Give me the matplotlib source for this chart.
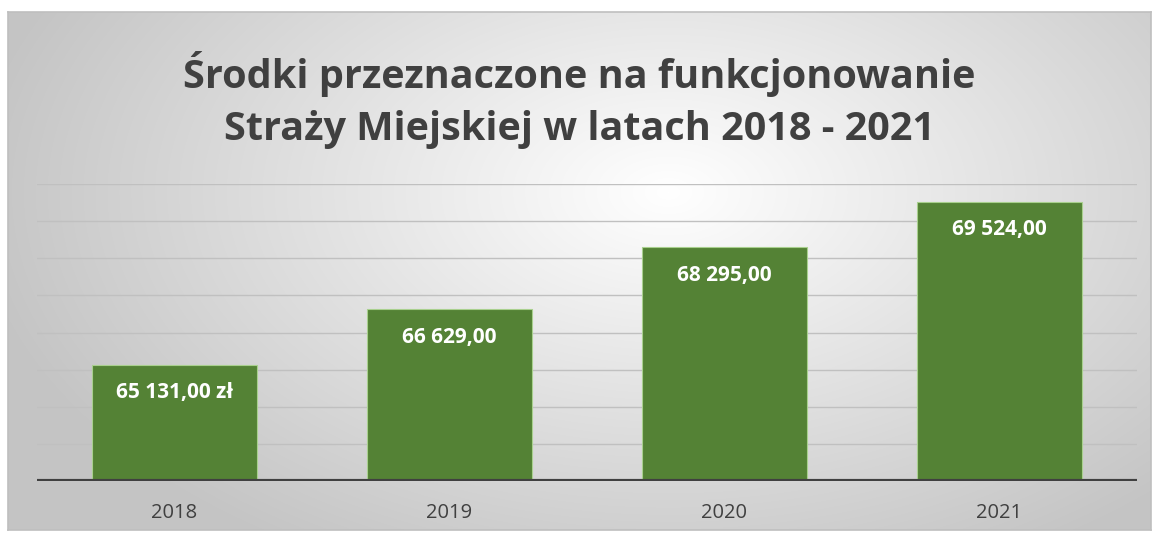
import numpy as np
import matplotlib
matplotlib.use("Agg")
import matplotlib.pyplot as plt

categories = ["2018", "2019", "2020", "2021"]
values = [65131.00, 66629.00, 68295.00, 69524.00]
value_labels = ["65 131,00 zł", "66 629,00", "68 295,00", "69 524,00"]
title = "Środki przeznaczone na funkcjonowanie\nStraży Miejskiej w latach 2018 - 2021"

W, H = 1159, 539
fig = plt.figure(figsize=(W / 100, H / 100), dpi=100)
fig.patch.set_facecolor("white")

# background chart area with radial gradient
x0, y0, x1, y1 = 8, 12, 1151, 530
bg = fig.add_axes([x0 / W, 1 - y1 / H, (x1 - x0) / W, (y1 - y0) / H])
yy, xx = np.mgrid[0:(y1 - y0), 0:(x1 - x0)]
cx, cy = 660, 180
d = np.sqrt(((xx - cx) / 700.0) ** 2 + ((yy - cy) / 420.0) ** 2)
d = np.clip(d, 0, 1)
g = 1.0 - 0.23 * d
img = np.dstack([g, g, g])
bg.imshow(img, aspect="auto", extent=[0, 1, 0, 1], origin="upper")
bg.set_xlim(0, 1); bg.set_ylim(0, 1)
bg.set_xticks([]); bg.set_yticks([])
for s in bg.spines.values():
    s.set_color("#bfbfbf"); s.set_linewidth(1.2)

fam = ["Open Sans", "DejaVu Sans"]
fig.text(0.5, 1 - 100 / H, title, ha="center", va="center", fontsize=28.5,
         fontweight="bold", color="#404040", family=fam, linespacing=1.45)

ax = fig.add_axes([37 / W, 1 - 481 / H, (1137 - 37) / W, (481 - 184) / H])
ax.patch.set_alpha(0)
x = np.arange(len(categories))
bars = ax.bar(x, values, width=0.6, color="#548235", edgecolor="#a9d08e",
              linewidth=0.8, zorder=3)
ax.set_ylim(62000, 70000)
ax.set_xlim(-0.5, len(categories) - 0.5)
ax.set_yticks(np.arange(62000, 70001, 1000))
ax.yaxis.grid(True, color="#c0c0c0", linewidth=1.0, zorder=0)
ax.set_axisbelow(True)
ax.tick_params(axis="y", left=False, labelleft=False)
ax.tick_params(axis="x", bottom=False, labelsize=14.5, labelcolor="#404040", pad=12)
ax.set_xticks(x)
ax.set_xticklabels(categories, family=fam)
for k, s in ax.spines.items():
    s.set_visible(False)
ax.axhline(62000, color="#404040", linewidth=3, zorder=4)

for xi, v, lab in zip(x, values, value_labels):
    ax.annotate(lab, (xi, v), xytext=(0, -28), textcoords="offset pixels",
                ha="center", va="center", color="white", fontsize=15,
                fontweight="bold", family=fam, zorder=5)

fig.savefig("out.png", dpi=100)
